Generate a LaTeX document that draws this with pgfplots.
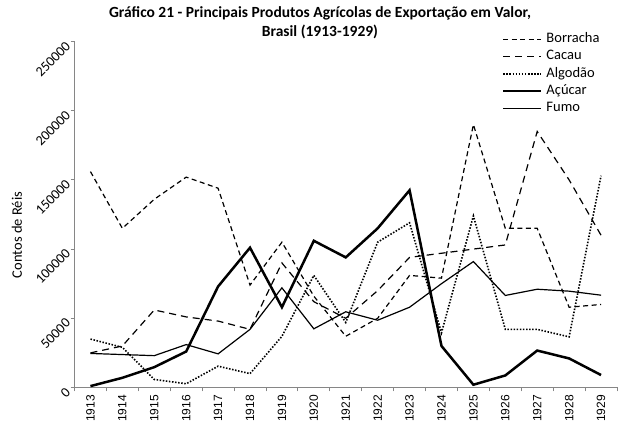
\documentclass[border=0pt]{standalone}
\usepackage{fontspec}
\setmainfont{Carlito}
\newfontfamily\arialf{Liberation Sans}
\usepackage{pgfplots}
\pgfplotsset{compat=1.18}
\definecolor{axgray}{RGB}{134,134,134}
\begin{document}
\begin{tikzpicture}
\begin{axis}[
  at={(0pt,0pt)}, anchor=south west,
  scale only axis, width=542.5pt, height=346pt,
  xmin=1912.5, xmax=1929.5, ymin=0, ymax=250000,
  scaled y ticks=false,
  axis x line*=bottom, axis y line*=left,
  axis line style={draw=axgray, line width=0.8pt, -},
  xtick={1912.5,1913.5,1914.5,1915.5,1916.5,1917.5,1918.5,1919.5,1920.5,1921.5,1922.5,1923.5,1924.5,1925.5,1926.5,1927.5,1928.5,1929.5},
  xticklabels={1913,1914,1915,1916,1917,1918,1919,1920,1921,1922,1923,1924,1925,1926,1927,1928,1929},
  x tick label as interval,
  ytick={0,50000,100000,150000,200000,250000},
  yticklabels={0,50000,100000,150000,200000,250000},
  tick align=outside, major tick length=4pt,
  tick style={draw=axgray, line width=0.8pt},
  xticklabel style={rotate=90, anchor=east, font=\arialf\fontsize{12}{14}\selectfont},
  yticklabel style={rotate=45, anchor=east, font=\fontsize{14}{16}\selectfont},
  legend cell align=left,
  legend image code/.code={\draw[#1] (0pt,0pt) -- (38pt,0pt);},
  legend style={at={(0.788,1.027)}, anchor=north west, draw=none, fill=none,
    inner sep=0pt, outer sep=0pt, font=\fontsize{14.5}{16}\selectfont,
    row sep=3.3pt, nodes={inner sep=1pt, text height=9.5pt, text depth=2.5pt},
    /tikz/every odd column/.append style={column sep=3pt}},
]
\addplot[black, line width=1.2pt, dash pattern=on 5pt off 3.5pt] table {
x y
1913 156000
1914 115000
1915 136000
1916 152000
1917 144000
1918 74000
1919 105000
1920 66000
1921 37000
1922 50000
1923 81000
1924 79000
1925 190000
1926 115000
1927 115000
1928 58000
1929 60000
};
\addlegendentry{Borracha}
\addplot[black, line width=1.2pt, dash pattern=on 7pt off 5pt] table {
x y
1913 25000
1914 30000
1915 56000
1916 51000
1917 48000
1918 42000
1919 90000
1920 62000
1921 50000
1922 70000
1923 94000
1924 97000
1925 100000
1926 103000
1927 185000
1928 150000
1929 110000
};
\addlegendentry{Cacau}
\addplot[black, line width=1.6pt, dash pattern=on 1.5pt off 1.6pt] table {
x y
1913 35000
1914 29000
1915 5800
1916 2700
1917 15400
1918 10000
1919 37000
1920 81000
1921 47000
1922 105000
1923 119000
1924 39500
1925 124000
1926 42000
1927 42000
1928 36600
1929 153000
};
\addlegendentry{Algodão}
\addplot[black, line width=2.5pt] table {
x y
1913 1000
1914 7000
1915 14700
1916 26000
1917 73000
1918 101000
1919 58000
1920 106000
1921 94000
1922 115000
1923 142500
1924 30000
1925 2000
1926 8700
1927 26700
1928 21000
1929 9000
};
\addlegendentry{Açúcar}
\addplot[black, line width=1.2pt] table {
x y
1913 24600
1914 23800
1915 23000
1916 31000
1917 24300
1918 42000
1919 72000
1920 42400
1921 54700
1922 48600
1923 58000
1924 75000
1925 91000
1926 66500
1927 71000
1928 69600
1929 66700
};
\addlegendentry{Fumo}
\end{axis}
\node[font=\bfseries\fontsize{15.5}{19}\selectfont, align=center] at (245.5pt,365pt)
  {Gráfico 21 - Principais Produtos Agrícolas de Exportação em Valor,\\Brasil (1913-1929)};
\node[rotate=90, font=\fontsize{14.5}{16}\selectfont] at (-57.5pt,152.5pt) {Contos de Réis};
\pgfresetboundingbox
\path (-74.5pt,-53.5pt) rectangle (550.5pt,387.5pt);
\end{tikzpicture}
\end{document}
